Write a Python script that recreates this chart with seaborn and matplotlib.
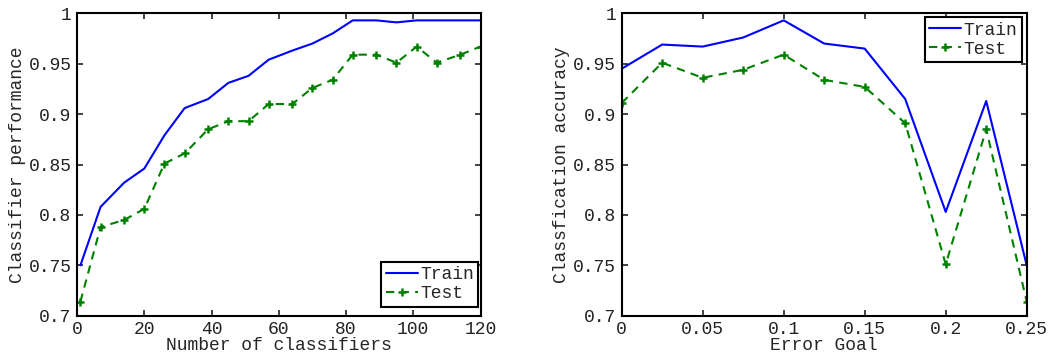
import matplotlib
matplotlib.use("Agg")
import matplotlib.pyplot as plt
import seaborn as sns
import pandas as pd

# ---- data ----
n_classifiers = [1, 7, 14, 20, 26, 32, 39, 45, 51, 57, 64, 70, 76, 82, 89, 95, 101, 107, 114, 120]
train_perf = [0.750, 0.808, 0.832, 0.846, 0.879, 0.906, 0.915, 0.931, 0.938, 0.954, 0.963,
              0.970, 0.980, 0.993, 0.993, 0.991, 0.993, 0.993, 0.993, 0.993]
test_perf = [0.714, 0.788, 0.795, 0.806, 0.851, 0.861, 0.885, 0.893, 0.893, 0.910, 0.910,
             0.926, 0.934, 0.959, 0.959, 0.951, 0.967, 0.951, 0.959, 0.967]

error_goal = [0.0, 0.025, 0.05, 0.075, 0.1, 0.125, 0.15, 0.175, 0.2, 0.225, 0.25]
train_acc = [0.945, 0.969, 0.967, 0.976, 0.993, 0.970, 0.965, 0.915, 0.803, 0.913, 0.750]
test_acc = [0.911, 0.951, 0.936, 0.944, 0.959, 0.934, 0.927, 0.891, 0.751, 0.885, 0.714]

left_xticks = [0, 20, 40, 60, 80, 100, 120]
right_xticks = [0, 0.05, 0.1, 0.15, 0.2, 0.25]
right_xticklabels = ["0", "0.05", "0.1", "0.15", "0.2", "0.25"]
yticks = [0.7, 0.75, 0.8, 0.85, 0.9, 0.95, 1.0]
yticklabels = ["0.7", "0.75", "0.8", "0.85", "0.9", "0.95", "1"]

sns.set_style("ticks")
plt.rcParams['font.family'] = ['Liberation Mono', 'DejaVu Sans Mono']
plt.rcParams['font.size'] = 13
plt.rcParams['xtick.direction'] = 'in'
plt.rcParams['ytick.direction'] = 'in'

fig = plt.figure(figsize=(10.51, 3.54), dpi=100)
ax1 = fig.add_axes([0.0733, 0.108, 0.3839, 0.8544])
ax2 = fig.add_axes([0.5915, 0.108, 0.3854, 0.8544])

BLUE = (0, 0, 1)
GREEN = (0, 0.5, 0)


def draw(ax, x, tr, te, xlabel, ylabel, xlim, xticks, xticklabels, legloc, anchor):
    df = pd.DataFrame({"x": x, "Train": tr, "Test": te})
    sns.lineplot(data=df, x="x", y="Train", ax=ax, color=BLUE, linewidth=1.5, label="Train")
    sns.lineplot(data=df, x="x", y="Test", ax=ax, color=GREEN, linewidth=1.5,
                 linestyle=(0, (4, 3)), marker="+", markersize=6, markeredgewidth=1.8,
                 markeredgecolor=GREEN, label="Test")
    ax.set_xlim(*xlim)
    ax.set_ylim(0.7, 1.0)
    ax.set_xticks(xticks)
    ax.set_xticklabels(xticklabels)
    ax.set_yticks(yticks)
    ax.set_yticklabels(yticklabels)
    ax.set_xlabel(xlabel, labelpad=-1)
    ax.set_ylabel(ylabel, labelpad=2)
    ax.tick_params(which="both", top=True, right=True, direction="in", length=4,
                   width=1.2, pad=4, labelsize=13, colors="#222222")
    for s in ax.spines.values():
        s.set_visible(True)
        s.set_linewidth(1.5)
        s.set_color("black")
    leg = ax.legend(loc=legloc, bbox_to_anchor=anchor, bbox_transform=ax.transAxes,
                    frameon=True, fancybox=False, framealpha=1,
                    edgecolor="black", handlelength=1.75, handletextpad=0.15,
                    borderpad=0.25, labelspacing=0.1, borderaxespad=0.0, fontsize=13)
    leg.get_frame().set_linewidth(1.5)


draw(ax1, n_classifiers, train_perf, test_perf, "Number of classifiers",
     "Classifier performance", (0, 120), left_xticks, [str(t) for t in left_xticks],
     "lower right", (0.995, 0.03))
draw(ax2, error_goal, train_acc, test_acc, "Error Goal",
     "Classfication accuracy", (0, 0.25), right_xticks, right_xticklabels,
     "upper right", (0.988, 0.987))

fig.savefig("out.png", dpi=100)
